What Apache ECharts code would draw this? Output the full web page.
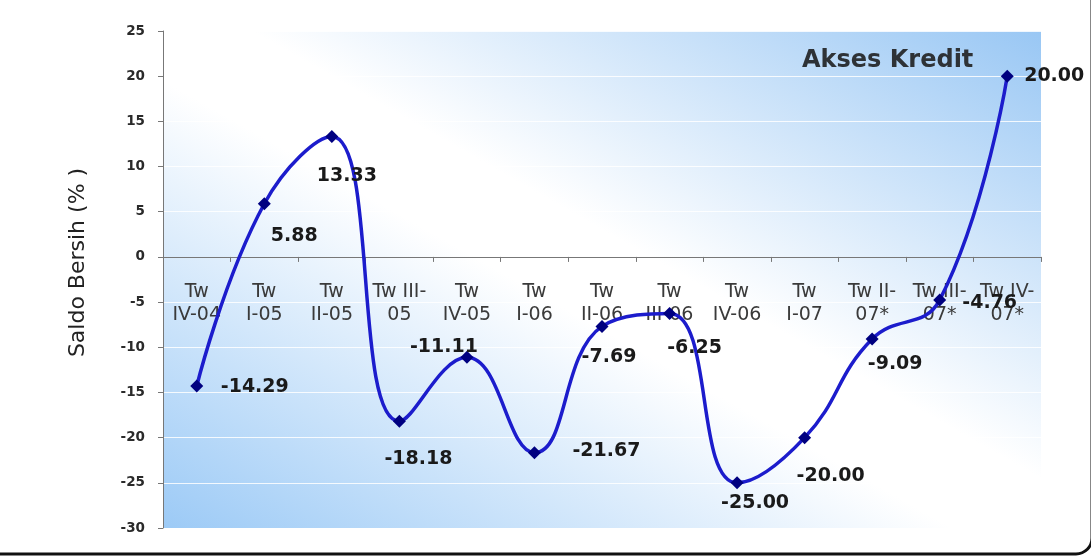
<!DOCTYPE html>
<html>
<head>
<meta charset="utf-8">
<script src="https://cdn.jsdelivr.net/npm/echarts@6/dist/echarts.min.js"></script>
<style>
  html, body { margin: 0; padding: 0; background: #fff; }
  #chart { width: 1091px; height: 557px; }
</style>
</head>
<body>
<div id="chart"></div>
<script>
  // kategori triwulan
  const categories = ['Tw\nIV-04', 'Tw\nI-05', 'Tw\nII-05', 'Tw III-\n05', 'Tw\nIV-05', 'Tw\nI-06',
    'Tw\nII-06', 'Tw\nIII-06', 'Tw\nIV-06', 'Tw\nI-07', 'Tw II-\n07*', 'Tw III-\n07*', 'Tw IV-\n07*']
  // saldo bersih (%)
  const saldo = [-14.29, 5.88, 13.33, -18.18, -11.11, -21.67, -7.69, -6.25, -25.00, -20.00, -9.09, -4.76, 20.00]
  const yTicks = [-30, -25, -20, -15, -10, -5, 0, 5, 10, 15, 20, 25]

  // posisi label data (offset dari titik)
  const labelOffset = [[58, 1], [30, 32], [15, 40], [19, 38], [-23, -10], [72, -2],
    [7, 31], [25, 35], [18, 20], [26, 38], [23, 25], [50, 3], [47, 0]]

  const chart = echarts.init(document.getElementById('chart'))

  const gridLeft = 163
  const gridRight = 50
  const gridTop = 31
  const gridBottom = 29
  // posisi garis nol (untuk label sumbu x)
  const yMax = yTicks[yTicks.length - 1]
  const zeroY = gridTop + (yMax / (yMax - yTicks[0])) * (557 - gridTop - gridBottom)

  const option = {
    animation: false,
    textStyle: { fontFamily: 'DejaVu Sans, Verdana, sans-serif' },
    title: {
      text: 'Akses Kredit',
      left: 797,
      top: 44,
      textStyle: { fontSize: 24, fontWeight: 'bold', color: '#2e3236' }
    },
    graphic: [
      {
        type: 'rect',
        shape: { x: -20, y: -30, width: 1112, height: 584, r: 16 },
        style: { fill: 'none', stroke: '#111', lineWidth: 3 },
        z: 100
      }
    ],
    grid: [
      {
        left: gridLeft,
        right: gridRight,
        top: gridTop,
        bottom: gridBottom,
        outerBoundsMode: 'none',
        containLabel: false,
        show: true,
        borderWidth: 0,
        // gradien diagonal ala excel: biru di pojok kiri-bawah & kanan-atas
        backgroundColor: {
          type: 'linear', x: 0.257, y: 1.257, x2: 0.743, y2: -0.257,
          colorStops: [
            { offset: 0, color: '#9ccaf6' },
            { offset: 0.45, color: '#ffffff' },
            { offset: 0.55, color: '#ffffff' },
            { offset: 1, color: '#99c7f4' }
          ]
        }
      },
      {
        // grid bantu hanya untuk label kategori di garis nol
        left: gridLeft,
        right: gridRight,
        top: zeroY - 1,
        height: 1,
        outerBoundsMode: 'none',
        containLabel: false
      }
    ],
    xAxis: [
      {
        type: 'category',
        data: categories,
        boundaryGap: true,
        axisLine: { onZero: true, lineStyle: { color: '#777', width: 1 } },
        axisTick: { show: true, length: 5, lineStyle: { color: '#777' } },
        axisLabel: { show: false },
        splitLine: { show: false }
      },
      {
        type: 'category',
        gridIndex: 1,
        data: categories,
        boundaryGap: true,
        axisLine: { show: false },
        axisTick: { show: false },
        axisLabel: { color: '#3a3a3a', fontSize: 19, lineHeight: 23, margin: 24, interval: 0 },
        splitLine: { show: false }
      }
    ],
    yAxis: [
      {
        type: 'value',
        min: yTicks[0],
        max: yMax,
        interval: 5,
        name: 'Saldo Bersih (% )',
        nameLocation: 'middle',
        nameGap: 74,
        nameTextStyle: { fontSize: 22, color: '#222', padding: [0, 0, 0, 34] },
        axisLine: { show: true, lineStyle: { color: '#777' } },
        axisTick: { show: true, length: 5, lineStyle: { color: '#777' } },
        axisLabel: { color: '#2a2a2a', fontSize: 13.5, fontWeight: 'bold', margin: 18 },
        splitLine: { show: true, lineStyle: { color: 'rgba(255,255,255,0.85)', width: 1 } }
      },
      {
        type: 'value',
        gridIndex: 1,
        show: false
      }
    ],
    series: [
      {
        type: 'line',
        data: saldo.map((v, i) => ({
          value: v,
          label: { offset: labelOffset[i] }
        })),
        smooth: 0.45,
        lineStyle: { color: '#1c1ccc', width: 3.5 },
        itemStyle: { color: '#000080' },
        symbol: 'diamond',
        symbolSize: 13,
        label: {
          show: true,
          position: 'inside',
          color: '#1a1a1a',
          fontSize: 19,
          fontWeight: 'bold',
          formatter: p => p.value.toFixed(2)
        },
        z: 5
      }
    ]
  }

  chart.setOption(option)
</script>
</body>
</html>
